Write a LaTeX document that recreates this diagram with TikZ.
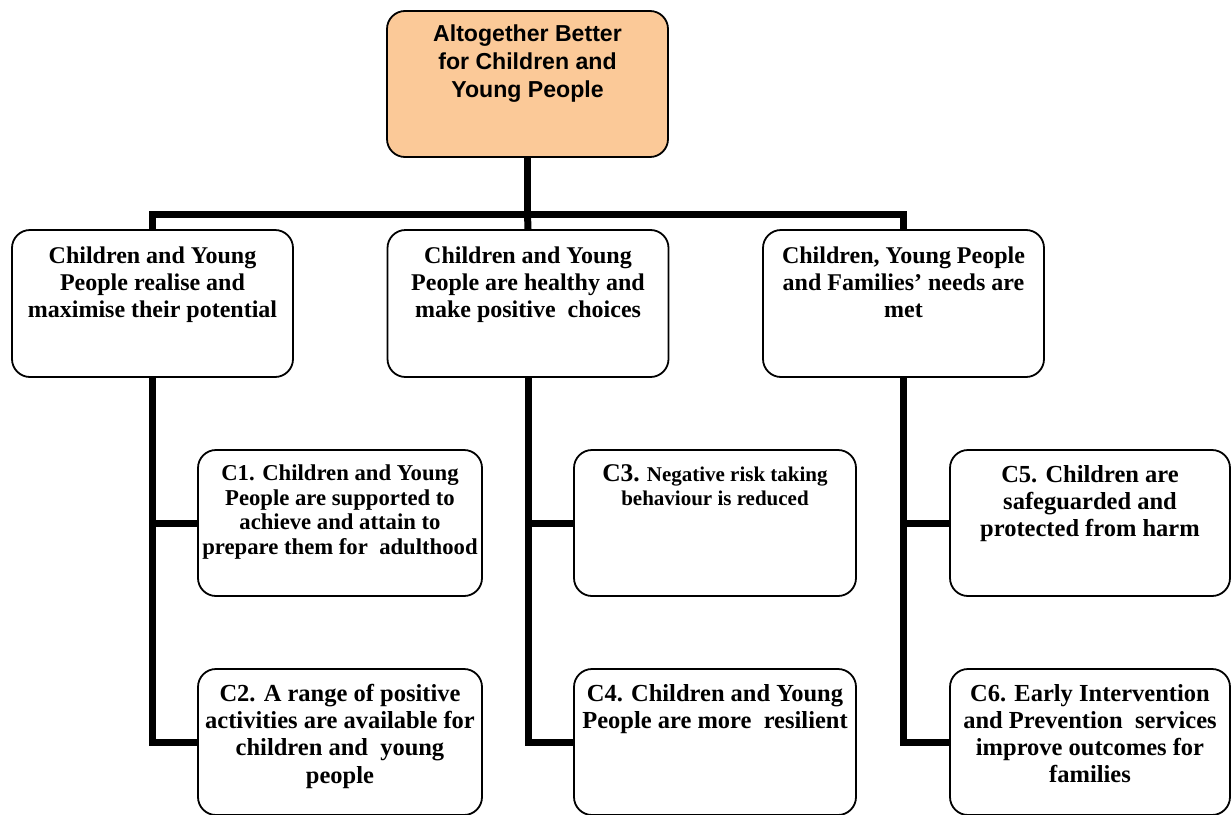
\documentclass[tikz,border=0pt]{standalone}
\usepackage{fontspec}
\setmainfont{Liberation Serif}
\newfontfamily\arialf{Liberation Sans}
\definecolor{peach}{RGB}{251,201,152}
\newcommand{\boxtext}[3]{\parbox[t][#1pt][t]{#2pt}{\centering #3}}
\newcommand{\fsL}{\fontsize{24}{27}\selectfont\bfseries}
\newcommand{\fsA}{\fontsize{24.5}{27.3}\selectfont\bfseries}
\newcommand{\fsB}{\fontsize{22.7}{24.5}\selectfont\bfseries}
\begin{document}
\begin{tikzpicture}[x=1pt,y=-1pt,
  box/.style={draw=black, line width=1.8pt, rounded corners=18pt, fill=white,
              inner sep=0pt, minimum height=146pt},
  conn/.style={line width=7pt, line join=miter}]
\useasboundingbox (0,0) rectangle (1231,814);
% top
\node[box, fill=peach, minimum width=281pt] (top) at (527.5,84)
  {\boxtext{118}{275}{\arialf\fontsize{23.1}{28}\selectfont\bfseries Altogether Better\\for Children and\\Young People}};
% level 2
\node[box, minimum width=281pt, minimum height=147pt] (l1) at (152.5,303.5)
  {\boxtext{113}{277}{\fsL Children and Young\\People realise and\\maximise their potential}};
\node[box, minimum width=281pt, minimum height=147pt] (l2) at (528,303.5)
  {\boxtext{113}{277}{\fsL Children and Young\\People are healthy and\\make positive~ choices}};
\node[box, minimum width=281pt, minimum height=147pt] (l3) at (903.5,303.5)
  {\boxtext{113}{277}{\fsL Children, Young People\\and Families’ needs are\\met}};
% level 3
\node[box, minimum width=284pt] (c1) at (340,523)
  {\boxtext{116}{280}{\fsB C1. Children and Young\\People are supported to\\achieve and attain to\\prepare them for~ adulthood}};
\node[box, minimum width=284pt] (c2) at (340,742)
  {\boxtext{116}{280}{\fsA C2. A range of positive\\activities are available for\\children and~ young\\people}};
\node[box, minimum width=282pt] (c3) at (715,523)
  {\boxtext{116}{278}{\fontsize{21}{24}\selectfont\bfseries {\fontsize{25.5}{24}\selectfont C3.} Negative risk taking\\behaviour is reduced}};
\node[box, minimum width=282pt] (c4) at (715,742)
  {\boxtext{116}{278}{\fsA C4. Children and Young\\People are more~ resilient}};
\node[box, minimum width=280pt] (c5) at (1090,523)
  {\boxtext{116}{276}{\fsA C5. Children are\\safeguarded and\\protected from harm}};
\node[box, minimum width=280pt] (c6) at (1090,742)
  {\boxtext{116}{276}{\fsA C6. Early Intervention\\and Prevention~ services\\improve outcomes for\\families}};
% connectors
\coordinate (bus) at (527.5,214);
\draw[conn] (top.south) -- (bus);
\draw[conn] (l1.north) |- (bus) -| (l3.north);
\draw[conn] (bus) -- (l2.north);
\draw[conn] (l1.south) |- (c1.west);
\draw[conn] (l1.south) |- (c2.west);
\draw[conn] (l2.south) |- (c3.west);
\draw[conn] (l2.south) |- (c4.west);
\draw[conn] (l3.south) |- (c5.west);
\draw[conn] (l3.south) |- (c6.west);
\end{tikzpicture}
\end{document}
